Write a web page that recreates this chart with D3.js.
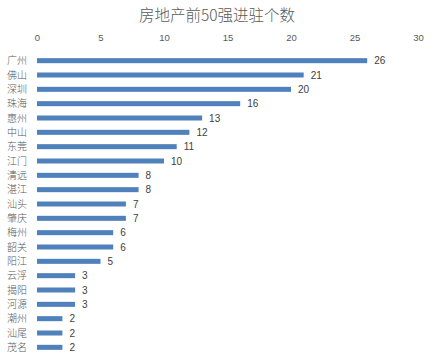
<!DOCTYPE html>
<html><head><meta charset="utf-8">
<script src="https://cdn.jsdelivr.net/npm/d3@7/dist/d3.min.js"></script>
<style>body{margin:0;background:#fff;} svg{display:block;}</style>
</head><body>
<svg id="c" width="433" height="357"></svg>
<script>
const categories = ["广州","佛山","深圳","珠海","惠州","中山","东莞","江门","清远","湛江","汕头","肇庆","梅州","韶关","阳江","云浮","揭阳","河源","潮州","汕尾","茂名"];
const values = [26,21,20,16,13,12,11,10,8,8,7,7,6,6,5,3,3,3,2,2,2];
const xTicks = [0,5,10,15,20,25,30];
const title = "房地产前50强进驻个数";

const svg = d3.select("#c");
const x = d3.scaleLinear().domain([0,30]).range([37,418]);
const y = d3.scaleBand().domain(categories).range([53.5,354.5]).paddingInner(0.65).paddingOuter(0.325);

svg.append("text").attr("x",217).attr("y",20.5).attr("text-anchor","middle")
  .attr("font-family","'Noto Sans CJK SC', sans-serif").attr("font-weight",300).attr("font-size",15.5).attr("fill","#595959").text(title);

const ax = svg.append("g").attr("transform","translate(0,41)")
  .call(d3.axisTop(x).tickValues(xTicks).tickSize(0).tickPadding(0));
ax.select(".domain").remove();
ax.selectAll("text").attr("font-family","'Liberation Sans', Arial, sans-serif").attr("font-size",9.5).attr("fill","#595959").attr("dy",0);

svg.append("g").selectAll("rect").data(values).join("rect")
  .attr("x",x(0)).attr("y",(d,i)=>y(categories[i]))
  .attr("width",d=>x(d)-x(0)).attr("height",y.bandwidth()).attr("fill","#4F81BD");

svg.append("g").selectAll("text").data(values).join("text")
  .attr("x",d=>x(d)+7).attr("y",(d,i)=>y(categories[i])+y.bandwidth()/2)
  .attr("dy","0.35em").attr("font-family","'Liberation Sans', Arial, sans-serif").attr("font-size",10)
  .attr("fill","#404040").text(d=>d);

svg.append("g").selectAll("text").data(categories).join("text")
  .attr("x",27).attr("y",d=>y(d)+y.bandwidth()/2).attr("dy","0.36em")
  .attr("text-anchor","end").attr("font-family","'Noto Sans CJK SC', sans-serif").attr("font-weight",300).attr("font-size",10)
  .attr("fill","#595959").text(d=>d);
</script>
</body></html>
